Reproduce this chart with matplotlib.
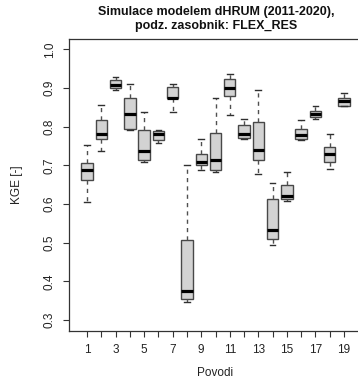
import matplotlib
matplotlib.use("Agg")
import matplotlib.pyplot as plt

plt.rcParams['font.family'] = ['Liberation Sans', 'DejaVu Sans']

categories = list(range(1, 20))
whislo = [0.605, 0.737, 0.896, 0.791, 0.709, 0.759, 0.839, 0.346, 0.689, 0.683,
          0.829, 0.768, 0.679, 0.495, 0.607, 0.765, 0.819, 0.692, 0.853]
q1 = [0.663, 0.769, 0.901, 0.795, 0.715, 0.765, 0.873, 0.355, 0.700, 0.689,
      0.880, 0.770, 0.713, 0.511, 0.612, 0.767, 0.825, 0.708, 0.854]
med = [0.689, 0.782, 0.909, 0.834, 0.737, 0.780, 0.875, 0.376, 0.708, 0.713,
       0.901, 0.782, 0.740, 0.534, 0.621, 0.778, 0.832, 0.729, 0.866]
q3 = [0.705, 0.818, 0.920, 0.873, 0.791, 0.789, 0.903, 0.508, 0.730, 0.785,
      0.924, 0.805, 0.811, 0.612, 0.649, 0.795, 0.841, 0.748, 0.875]
whishi = [0.752, 0.857, 0.928, 0.911, 0.839, 0.791, 0.910, 0.700, 0.767, 0.873,
          0.935, 0.821, 0.894, 0.655, 0.683, 0.817, 0.854, 0.780, 0.888]
xticklabels = ['1', '', '3', '', '5', '', '7', '', '9', '', '11', '', '13', '',
               '15', '', '17', '', '19']
yticks = [0.3, 0.4, 0.5, 0.6, 0.7, 0.8, 0.9, 1.0]

title = "Simulace modelem dHRUM (2011-2020),\npodz. zasobnik: FLEX_RES"

fig = plt.figure(figsize=(3.58, 3.78), dpi=100)
ax = fig.add_axes([69/358, 1-331/378, (362-69)/358, (331-38.5)/378])

stats = []
for i in range(len(categories)):
    stats.append(dict(whislo=whislo[i], q1=q1[i], med=med[i], q3=q3[i],
                      whishi=whishi[i], fliers=[]))

edge = '#484848'
ax.bxp(stats, positions=categories, widths=0.8, patch_artist=True,
       showfliers=False,
       boxprops=dict(facecolor='#D3D3D3', edgecolor=edge, linewidth=1.0),
       medianprops=dict(color='black', linewidth=2.3, solid_capstyle='butt'),
       whiskerprops=dict(color='#505050', linewidth=1.0, linestyle=(0, (3, 3))),
       capprops=dict(color='#303030', linewidth=1.0),
       capwidths=0.4)

ax.set_xlim(-0.26, 20.26)
ax.set_ylim(0.272, 1.028)
ax.set_xticks(categories)
ax.set_xticklabels(xticklabels)
ax.set_yticks(yticks)
ax.set_yticklabels([f"{v:.1f}" for v in yticks], rotation=90, va='center')

ax.tick_params(axis='both', length=4.5, width=0.8, color='#333333',
               labelsize=8.5, labelcolor='#222222', pad=5)
for s in ax.spines.values():
    s.set_color('#333333')
    s.set_linewidth(0.9)

ax.set_xlabel('Povodi', fontsize=8.5, color='#222222', labelpad=8)
ax.set_ylabel('KGE [-]', fontsize=8.5, color='#222222', labelpad=15)
ax.set_title(title, fontsize=9, fontweight='bold', color='#111111', pad=7,
             x=(216-69)/(362-69), linespacing=1.25)

fig.savefig('out.png', dpi=100)
